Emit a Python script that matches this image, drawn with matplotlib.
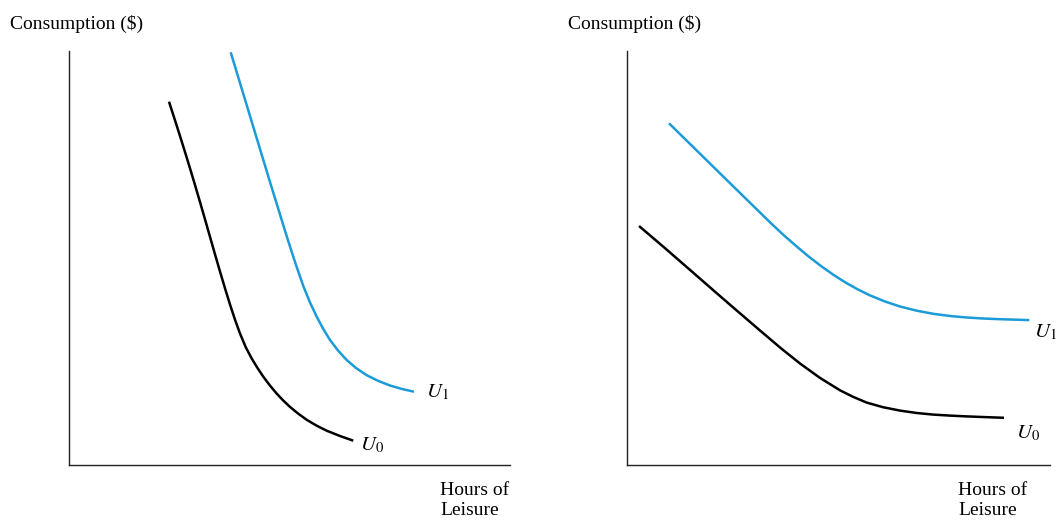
import matplotlib
matplotlib.use('Agg')
import matplotlib.pyplot as plt

# Indifference curves (units ~ pixels from the origin)
left_u0_x = [100, 106, 111, 116, 121, 126, 131, 136, 141, 146, 151, 156, 161, 166, 171,
             176.8, 182.7, 188.5, 194.3, 201, 207.7, 214.3, 221, 229, 237.7, 247.7, 257.7, 271, 284.3]
left_u0_y = [363.3, 344.7, 329, 313, 296.7, 280, 263, 245.7, 228.2, 210.7, 193.5, 176.7, 160.5, 145.3, 131.5,
             117.7, 106.5, 97, 88.3, 79.4, 71.4, 64.4, 58.1, 51.5, 45.2, 39.3, 34.3, 29, 24.3]
left_u1_x = [161.7, 171, 181, 191, 201, 211, 219.3, 226.5, 234.3, 241, 247.7, 254, 261, 269, 277.7,
             287, 297.7, 309, 321, 333, 345]
left_u1_y = [412.7, 382, 349, 316, 283, 250.5, 223.7, 201.5, 179, 162.5, 148.3, 136.5, 125, 114.5, 105,
             97, 89.8, 84.2, 79.5, 76, 73.3]

right_u0_x = [12, 36.3, 63, 89.7, 109.7, 133, 154, 173, 193, 213, 226, 239.7, 256, 273, 289.7,
              306.3, 323, 339.7, 358, 377]
right_u0_y = [239, 218.3, 195.1, 171.8, 154.5, 134.5, 116.7, 101.5, 87.1, 74.7, 68.2, 62.4, 57.8, 54.4, 52,
              50.4, 49.4, 48.6, 47.9, 47.2]
right_u1_x = [42, 69, 96, 120, 143, 156.5, 169.7, 182, 194.5, 207, 219, 231, 243, 258, 273,
              289.7, 306.3, 323, 339.7, 356, 373, 402.3]
right_u1_y = [341.7, 315.2, 288.7, 265.2, 242.7, 230, 218.5, 208.2, 198.6, 189.8, 182.2, 175.5, 169.6, 163.5, 158.5,
              154.3, 151.2, 149, 147.5, 146.5, 145.8, 144.9]

y_label = 'Consumption ($)'
x_label = 'Hours of\nLeisure'
u_labels = [r'$U_0$', r'$U_1$']

BLUE = '#1b9bd7'
W, H = 1057, 521

plt.rcParams['font.family'] = 'Liberation Serif'
plt.rcParams['mathtext.fontset'] = 'stix'

fig = plt.figure(figsize=(W / 100, H / 100), dpi=100)


def make_axes(left_px, right_px):
    ax = fig.add_axes([left_px / W, (H - 465) / H, (right_px - left_px) / W, 414 / H])
    ax.set_xlim(0, right_px - left_px)
    ax.set_ylim(0, 414)
    for s in ['top', 'right']:
        ax.spines[s].set_visible(False)
    for s in ['left', 'bottom']:
        ax.spines[s].set_linewidth(1.0)
        ax.spines[s].set_color('#222222')
    ax.set_xticks([])
    ax.set_yticks([])
    return ax


def curve(ax, xs, ys, color):
    ax.plot(xs, ys, color=color, lw=1.8, solid_capstyle='butt', solid_joinstyle='round')


ax1 = make_axes(69, 510)
curve(ax1, left_u0_x, left_u0_y, 'black')
curve(ax1, left_u1_x, left_u1_y, BLUE)
ax1.text(372 - 69, 465 - 445, u_labels[0], fontsize=15, ha='center', va='center')
ax1.text(437 - 69, 465 - 392, u_labels[1], fontsize=15, ha='center', va='center')

ax2 = make_axes(627, 1050)
curve(ax2, right_u0_x, right_u0_y, 'black')
curve(ax2, right_u1_x, right_u1_y, BLUE)
ax2.text(1028 - 627, 465 - 433, u_labels[0], fontsize=15, ha='center', va='center', clip_on=False)
ax2.text(1045 - 627, 465 - 332, u_labels[1], fontsize=15, ha='center', va='center', clip_on=False)

for x0 in [10, 568]:
    fig.text(x0 / W, 1 - 24 / H, y_label, fontsize=14, ha='left', va='center')
for x0 in [440, 958]:
    fig.text(x0 / W, 1 - 482 / H, x_label, fontsize=14, ha='left', va='top', linespacing=1.2)

fig.savefig('out.png', dpi=100)
